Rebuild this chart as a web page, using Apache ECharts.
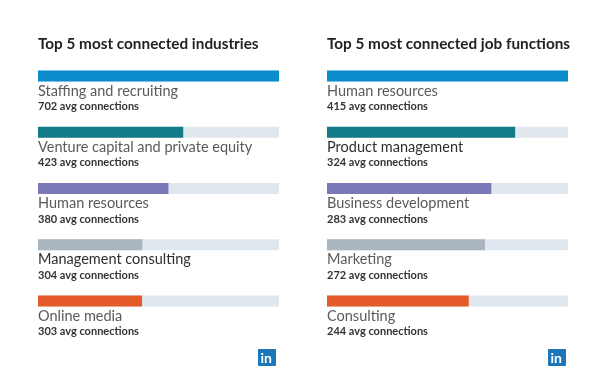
<!DOCTYPE html>
<html><head><meta charset="utf-8">
<script src="https://cdn.jsdelivr.net/npm/echarts@6/dist/echarts.min.js"></script>
<style>html,body{margin:0;padding:0;background:#fff}#c{width:610px;height:366px}</style>
</head><body><div id="c"></div>
<script>
// ---- data ----
const leftTitle = 'Top 5 most connected industries';
const rightTitle = 'Top 5 most connected job functions';
const industries = ['Staffing and recruiting', 'Venture capital and private equity', 'Human resources', 'Management consulting', 'Online media'];
const industryValues = [702, 423, 380, 304, 303];
const functions = ['Human resources', 'Product management', 'Business development', 'Marketing', 'Consulting'];
const functionValues = [415, 324, 283, 272, 244];
const valueSuffix = ' avg connections';

// ---- styles ----
const barColors = ['#0b8dcc', '#137b88', '#7c79b8', '#aab6bf', '#e45a28'];
const leftNameColors = ['#5a5a5a', '#5a5a5a', '#5a5a5a', '#2e2e2e', '#5a5a5a'];
const rightNameColors = ['#5a5a5a', '#2e2e2e', '#5a5a5a', '#5a5a5a', '#5a5a5a'];
const FONT = 'Lato, "Open Sans", sans-serif';

function makeData(vals, nameColors) {
  return vals.map((v, i) => ({
    value: v,
    itemStyle: { color: barColors[i] },
    label: { rich: { a: { color: nameColors[i] } } }
  }));
}

function makeSeries(idx, vals, names, nameColors) {
  return {
    type: 'bar',
    xAxisIndex: idx, yAxisIndex: idx,
    barWidth: 11,
    showBackground: true,
    backgroundStyle: { color: '#e1e7ee' },
    data: makeData(vals, nameColors),
    silent: true,
    label: {
      show: true,
      position: [0, 12],
      align: 'left',
      verticalAlign: 'top',
      formatter: p => '{a|' + names[p.dataIndex] + '}\n{b|' + p.value + valueSuffix + '}',
      rich: {
        a: { fontFamily: FONT, fontSize: 14.5, color: '#5a5a5a', lineHeight: 17 },
        b: { fontFamily: FONT, fontSize: 11, fontWeight: 'bold', color: '#333', lineHeight: 14 }
      }
    },
    animation: false
  };
}

const chart = echarts.init(document.getElementById('c'));
chart.setOption({
  backgroundColor: '#fff',
  animation: false,
  title: [
    { text: leftTitle, left: 38, top: 37, padding: 0, textStyle: { fontFamily: FONT, fontSize: 15.3, fontWeight: 'bold', color: '#222' } },
    { text: rightTitle, left: 327, top: 37, padding: 0, textStyle: { fontFamily: FONT, fontSize: 15.3, fontWeight: 'bold', color: '#222' } }
  ],
  grid: [
    { left: 38, width: 241, top: 48, height: 281 },
    { left: 327, width: 241, top: 48, height: 281 }
  ],
  xAxis: [
    { gridIndex: 0, type: 'value', min: 0, max: industryValues[0], show: false },
    { gridIndex: 1, type: 'value', min: 0, max: functionValues[0], show: false }
  ],
  yAxis: [
    { gridIndex: 0, type: 'category', data: industries, inverse: true, show: false },
    { gridIndex: 1, type: 'category', data: functions, inverse: true, show: false }
  ],
  series: [
    makeSeries(0, industryValues, industries, leftNameColors),
    makeSeries(1, functionValues, functions, rightNameColors)
  ],
  graphic: [258, 548].map(x => ({
    type: 'group', left: x, top: 349,
    children: [
      { type: 'rect', shape: { x: 0, y: 0, width: 18, height: 17, r: 1 }, style: { fill: '#1c76b9' } },
      { type: 'text', x: 2.5, y: 2, style: { text: 'in', fill: '#fff', font: 'bold 14px ' + FONT } }
    ]
  }))
});
</script></body></html>
